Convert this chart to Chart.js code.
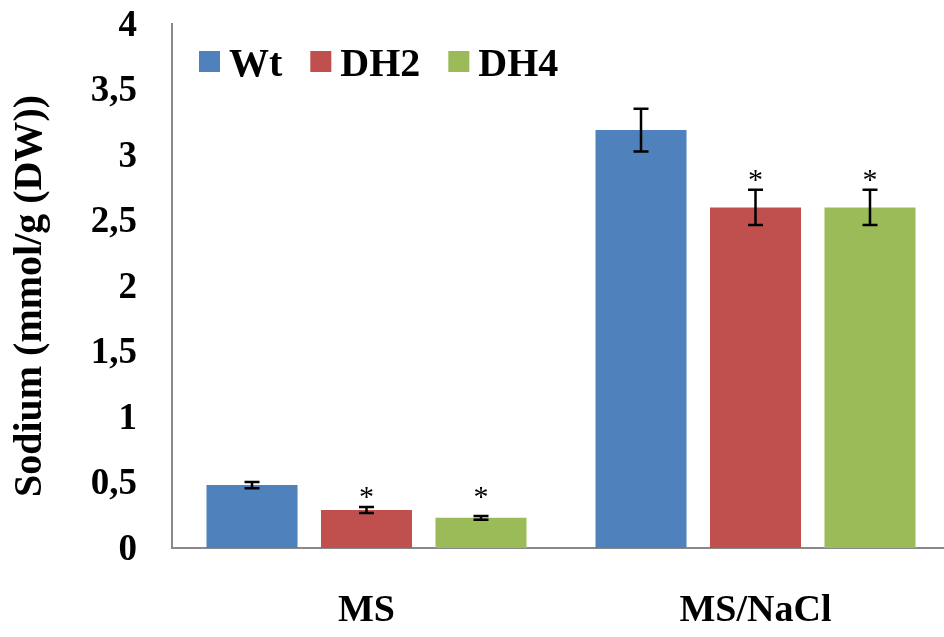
<!DOCTYPE html>
<html>
<head>
<meta charset="utf-8">
<script src="https://cdn.jsdelivr.net/npm/chart.js@4/dist/chart.umd.min.js"></script>
<style>
  html, body { margin: 0; padding: 0; background: #fff; overflow: hidden; }
  #wrap { width: 960px; height: 637px; }
</style>
</head>
<body>
<div id="wrap"><canvas id="c" width="960" height="637"></canvas></div>
<script>
// Sodium content per genotype, with standard errors
const categories = ['MS', 'MS/NaCl'];
const seriesNames = ['Wt', 'DH2', 'DH4'];
const wtValues  = [0.48, 3.19];
const dh2Values = [0.29, 2.60];
const dh4Values = [0.23, 2.60];
const wtErrors  = [0.023, 0.164];
const dh2Errors = [0.023, 0.134];
const dh4Errors = [0.015, 0.134];
// significance marks (true = asterisk over the bar)
const wtSig  = [false, false];
const dh2Sig = [true, true];
const dh4Sig = [true, true];
const yTicks = [0, 0.5, 1, 1.5, 2, 2.5, 3, 3.5, 4];

const colors = ['#4F81BD', '#C0504D', '#9BBB59'];
const serif = '"Liberation Serif", "Times New Roman", serif';

const seriesValues = [wtValues, dh2Values, dh4Values];
const seriesErrors = [wtErrors, dh2Errors, dh4Errors];
const seriesSig = [wtSig, dh2Sig, dh4Sig];

const datasets = seriesNames.map((name, i) => ({
  label: name,
  data: seriesValues[i],
  errors: seriesErrors[i],
  sig: seriesSig[i],
  backgroundColor: colors[i],
  borderWidth: 0,
  barPercentage: 0.795,
  categoryPercentage: 0.883
}));

// error bars and significance asterisks
const errorBarPlugin = {
  id: 'errorBars',
  afterDatasetsDraw(chart) {
    const ctx = chart.ctx;
    const y = chart.scales.y;
    ctx.save();
    ctx.strokeStyle = '#000';
    ctx.lineWidth = 2.5;
    chart.data.datasets.forEach((ds, di) => {
      const meta = chart.getDatasetMeta(di);
      meta.data.forEach((bar, i) => {
        const v = ds.data[i], e = ds.errors[i];
        const yTop = y.getPixelForValue(v + e);
        const yBot = y.getPixelForValue(v - e);
        const x = bar.x, cap = 7.5;
        ctx.beginPath();
        ctx.moveTo(x, yTop); ctx.lineTo(x, yBot);
        ctx.moveTo(x - cap, yTop); ctx.lineTo(x + cap, yTop);
        ctx.moveTo(x - cap, yBot); ctx.lineTo(x + cap, yBot);
        ctx.stroke();
      });
    });
    // asterisks share one height per category, above the highest starred error bar
    ctx.fillStyle = '#000';
    ctx.font = '30px ' + serif;
    ctx.textAlign = 'center';
    ctx.textBaseline = 'alphabetic';
    chart.data.labels.forEach((_, i) => {
      let top = Infinity;
      chart.data.datasets.forEach(ds => {
        if (ds.sig[i]) top = Math.min(top, y.getPixelForValue(ds.data[i] + ds.errors[i]));
      });
      if (top === Infinity) return;
      const centerY = top - 17;
      chart.data.datasets.forEach((ds, di) => {
        if (!ds.sig[i]) return;
        const bar = chart.getDatasetMeta(di).data[i];
        ctx.fillText('*', bar.x, centerY + 16);
      });
    });
    ctx.restore();
  }
};

// legend inside the plot area, top left
const legendPlugin = {
  id: 'innerLegend',
  afterDraw(chart) {
    const ctx = chart.ctx;
    ctx.save();
    ctx.font = 'bold 40px ' + serif;
    ctx.textBaseline = 'alphabetic';
    ctx.textAlign = 'left';
    let x = chart.chartArea.left + 27;
    const boxTop = 51, box = 21, baseline = 76;
    chart.data.datasets.forEach(ds => {
      ctx.fillStyle = ds.backgroundColor;
      ctx.fillRect(x, boxTop, box, box);
      x += box + 9;
      ctx.fillStyle = '#000';
      ctx.fillText(ds.label, x, baseline);
      x += ctx.measureText(ds.label).width + 28;
    });
    ctx.restore();
  }
};

// rotated y-axis title
const yTitlePlugin = {
  id: 'yTitle',
  afterDraw(chart) {
    const ctx = chart.ctx;
    ctx.save();
    ctx.translate(31, 296);
    ctx.rotate(-Math.PI / 2);
    ctx.font = 'bold 40px ' + serif;
    ctx.fillStyle = '#000';
    ctx.textAlign = 'center';
    ctx.textBaseline = 'middle';
    ctx.fillText('Sodium (mmol/g (DW))', 0, 0);
    ctx.restore();
  }
};

function noScalePadding(scale) {
  scale.paddingTop = 0;
  scale.paddingBottom = 0;
  scale.paddingLeft = 0;
  scale.paddingRight = 0;
}

new Chart(document.getElementById('c'), {
  type: 'bar',
  data: { labels: categories, datasets },
  plugins: [errorBarPlugin, legendPlugin, yTitlePlugin],
  options: {
    responsive: false,
    animation: false,
    layout: { padding: { top: 24, right: 10, bottom: 0, left: 0 } },
    plugins: { legend: { display: false }, tooltip: { enabled: false } },
    scales: {
      x: {
        grid: { display: false, drawTicks: false },
        border: { display: true, color: '#898989', width: 2 },
        ticks: {
          padding: 40,
          color: '#000',
          font: { family: serif, size: 38, weight: 'bold' }
        },
        afterFit(scale) { scale.height = 89; noScalePadding(scale); }
      },
      y: {
        min: 0,
        max: 4,
        afterBuildTicks(scale) { scale.ticks = yTicks.map(v => ({ value: v })); },
        grid: { display: false, drawTicks: false },
        border: { display: true, color: '#898989', width: 2 },
        ticks: {
          padding: 35,
          labelOffset: 2,
          color: '#000',
          font: { family: serif, size: 37, weight: 'bold' },
          callback: v => String(v).replace('.', ',')
        },
        afterFit(scale) { scale.width = 172; noScalePadding(scale); }
      }
    }
  }
});
</script>
</body>
</html>
